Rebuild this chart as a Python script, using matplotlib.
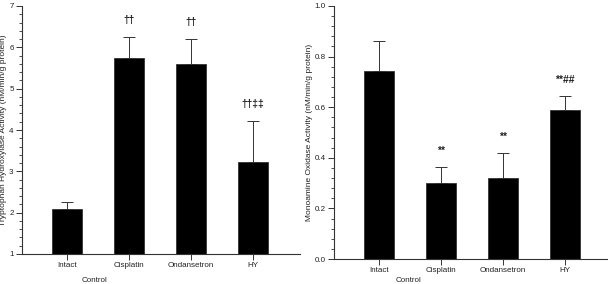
"""two bar panels: TPH activity and MAO activity per group"""

import numpy as np
import matplotlib.pyplot as plt
from matplotlib.ticker import MultipleLocator

plt.rcParams['font.family'] = ['Liberation Sans', 'DejaVu Sans']

# data
groups = ['Intact', 'Cisplatin', 'Ondansetron', 'HY']
tph_mean = [2.09, 5.73, 5.60, 3.23]
tph_err = [0.17, 0.52, 0.61, 0.99]
tph_marks = ['', '††', '††', '††‡‡']
mao_mean = [0.744, 0.302, 0.319, 0.589]
mao_err = [0.118, 0.060, 0.099, 0.055]
mao_marks = ['', '**', '**', '**##']

LINE = '#333333'

fig = plt.figure(figsize=(6.08, 2.84), dpi=100)
ax1 = fig.add_axes([22/608, 1-254/284, 278/608, 248/284])
ax2 = fig.add_axes([334/608, 1-259/284, 274/608, 253/284])


def draw_panel(ax, means, errs, marks, ylim, major, mark_gap, ylabel, xmax):
    x = np.arange(len(groups))
    ax.bar(x, means, width=0.49, color='black', edgecolor=LINE, linewidth=0.6)
    ax.errorbar(x, means, yerr=[np.zeros(len(errs)), errs], fmt='none',
                ecolor=LINE, elinewidth=0.7, capsize=4, capthick=0.7)
    for xi, m, e, t in zip(x, means, errs, marks):
        if t:
            ax.text(xi, m + e + mark_gap, t, ha='center', va='center',
                    fontsize=7.5, fontweight='bold', color='#222222')
    ax.set_xlim(-0.726, xmax)
    ax.set_ylim(*ylim)
    ax.yaxis.set_major_locator(MultipleLocator(major))
    ax.yaxis.set_minor_locator(MultipleLocator(major/5))
    ax.set_xticks(x)
    ax.set_xticklabels(groups)
    ax.spines['top'].set_visible(False)
    ax.spines['right'].set_visible(False)
    for s in ('left', 'bottom'):
        ax.spines[s].set_color(LINE)
        ax.spines[s].set_linewidth(0.8)
    ax.tick_params(axis='both', which='major', labelsize=5.8, color=LINE,
                   length=4, width=0.7, pad=2, labelcolor='#222222')
    ax.tick_params(axis='y', which='minor', length=2, width=0.6, color=LINE)
    ax.tick_params(axis='x', which='minor', bottom=False)
    ax.set_ylabel(ylabel, fontsize=6, color='#222222', labelpad=1)


draw_panel(ax1, tph_mean, tph_err, tph_marks, (1, 7), 1, 0.4,
           'Tryptophan Hydroxylase Activity (nM/min/g protein)', 3.76)
draw_panel(ax2, mao_mean, mao_err, mao_marks, (0, 1.0), 0.2, 0.064,
           'Monoamine Oxidase Activity (nM/min/g protein)', 3.69)
ax2.yaxis.set_major_formatter(plt.FormatStrFormatter('%.1f'))
ax1.yaxis.set_label_coords(-0.055, 0.5)

fig.text(94/608, 1-280/284, 'Control', fontsize=5.8, ha='center', va='center', color='#222222')
fig.text(408/608, 1-280/284, 'Control', fontsize=5.8, ha='center', va='center', color='#222222')

fig.savefig('out.png', dpi=100)
